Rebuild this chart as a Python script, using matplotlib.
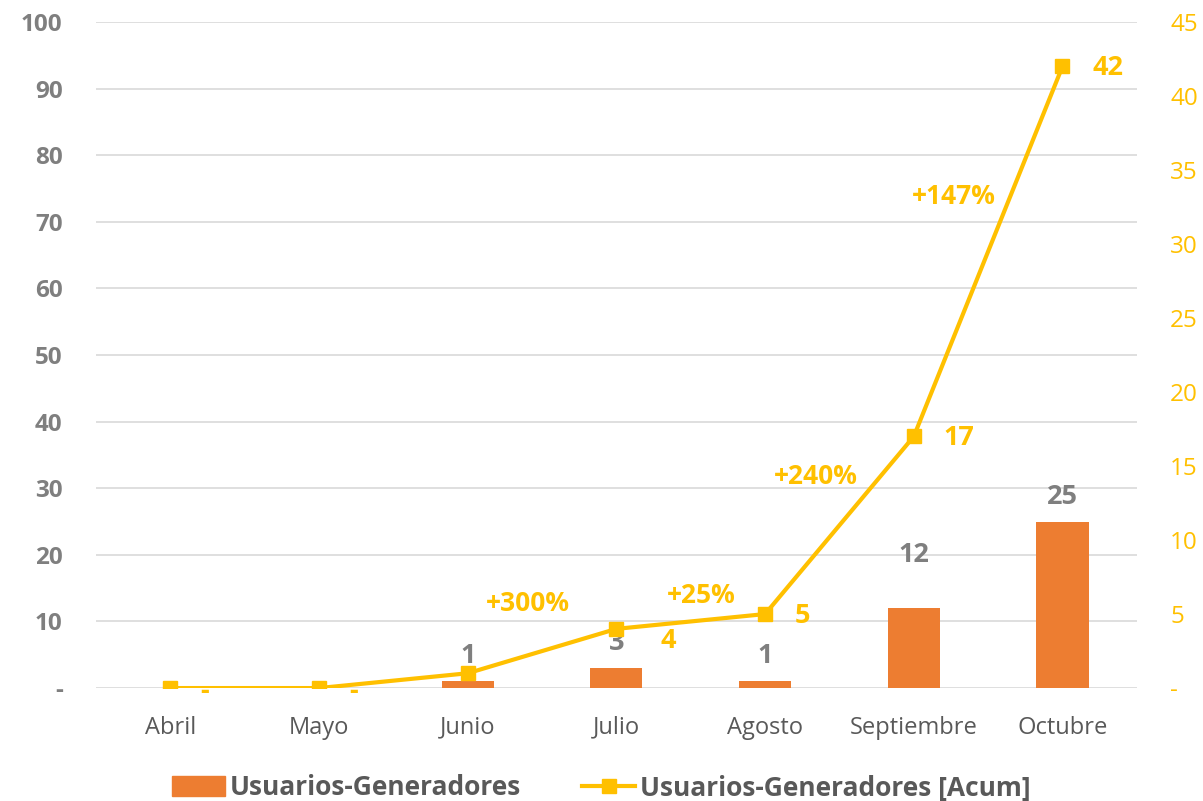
import matplotlib
matplotlib.use('Agg')
import matplotlib.pyplot as plt
from matplotlib.ticker import FuncFormatter
from matplotlib.patches import Patch
from matplotlib.lines import Line2D
import numpy as np

plt.rcParams['font.family'] = ['Open Sans', 'DejaVu Sans']

months = ['Abril', 'Mayo', 'Junio', 'Julio', 'Agosto', 'Septiembre', 'Octubre']
monthly = [0, 0, 1, 3, 1, 12, 25]
cumulative = [0, 0, 1, 4, 5, 17, 42]
left_ticks = [0, 10, 20, 30, 40, 50, 60, 70, 80, 90, 100]
right_ticks = [0, 5, 10, 15, 20, 25, 30, 35, 40, 45]

ORANGE = '#ED7D31'
YELLOW = '#FFC000'
GRAY = '#7F7F7F'
DARK = '#595959'


def dash_zero(v, pos=None):
    return '-' if v == 0 else f'{v:g}'


fig = plt.figure(figsize=(12.03, 8.01), dpi=100)
ax = fig.add_axes([0.0798, 0.141, 0.8652, 0.8315])
ax2 = ax.twinx()

x = np.arange(len(months))

# bars on the left axis
ax.bar(x, monthly, width=0.35, color=ORANGE, zorder=2)
ax.set_ylim(0, 100)
ax.set_xlim(-0.5, len(months) - 0.5)
ax.set_yticks(left_ticks)
ax.yaxis.set_major_formatter(FuncFormatter(dash_zero))
ax.set_xticks(x)
ax.set_xticklabels(months)
ax.grid(axis='y', color='#D9D9D9', linewidth=1.2, zorder=0)
ax.set_axisbelow(True)
for s in ax.spines.values():
    s.set_visible(False)
ax.tick_params(axis='both', length=0)
ax.tick_params(axis='y', labelsize=17.5, labelcolor=GRAY, pad=24)
ax.tick_params(axis='x', labelsize=17, labelcolor=DARK, pad=20)
for lbl in ax.get_yticklabels():
    lbl.set_fontweight('bold')

# bar value labels (zeros hidden)
bar_gap = [0, 0, 12, 12, 12, 40, 12]
for xi, v, g in zip(x, monthly, bar_gap):
    if v == 0:
        continue
    ax.annotate(f'{v}', (xi, v), xytext=(0, g), textcoords='offset pixels',
                ha='center', va='bottom', fontsize=19.5, fontweight='bold', color=GRAY)

# cumulative line on the right axis
ax2.plot(x, cumulative, color=YELLOW, linewidth=3, marker='s', markersize=10, zorder=3)
ax2.set_ylim(0, 45)
ax2.set_yticks(right_ticks)
ax2.yaxis.set_major_formatter(FuncFormatter(dash_zero))
for s in ax2.spines.values():
    s.set_visible(False)
ax2.tick_params(axis='y', length=0, labelsize=17.5, labelcolor=YELLOW, pad=24)

# cumulative value labels
line_off = [(30, -4), (30, -4), None, (44, -12), (30, -2), (30, -2), (30, -2)]
for xi, v, off in zip(x, cumulative, line_off):
    if off is None:
        continue
    ax2.annotate(dash_zero(v), (xi, v), xytext=off, textcoords='offset pixels',
                 ha='left', va='center', fontsize=19.5, fontweight='bold', color=YELLOW)

# growth labels between consecutive months
growth_off = {3: (-14, 48), 4: (10, 26), 5: (-24, 49), 6: (-34, 55)}
for i, off in growth_off.items():
    pct = (cumulative[i] - cumulative[i - 1]) / cumulative[i - 1] * 100
    mx = (x[i] + x[i - 1]) / 2
    my = (cumulative[i] + cumulative[i - 1]) / 2
    ax2.annotate(f'+{pct:.0f}%', (mx, my), xytext=off, textcoords='offset pixels',
                 ha='center', va='center', fontsize=19, fontweight='bold', color=YELLOW)

# legend
handles = [Patch(color=ORANGE, label='Usuarios-Generadores'),
           Line2D([0], [0], color=YELLOW, lw=3, marker='s', markersize=10,
                  label='Usuarios-Generadores [Acum]')]
leg = fig.legend(handles=handles, loc='lower center', bbox_to_anchor=(0.5, -0.03), ncol=2,
                 frameon=False, prop={'size': 19, 'weight': 'bold'},
                 handlelength=2.0, handleheight=0.75, columnspacing=2.3, handletextpad=0.2)
for t in leg.get_texts():
    t.set_color(DARK)

fig.savefig('out.png', dpi=100)
